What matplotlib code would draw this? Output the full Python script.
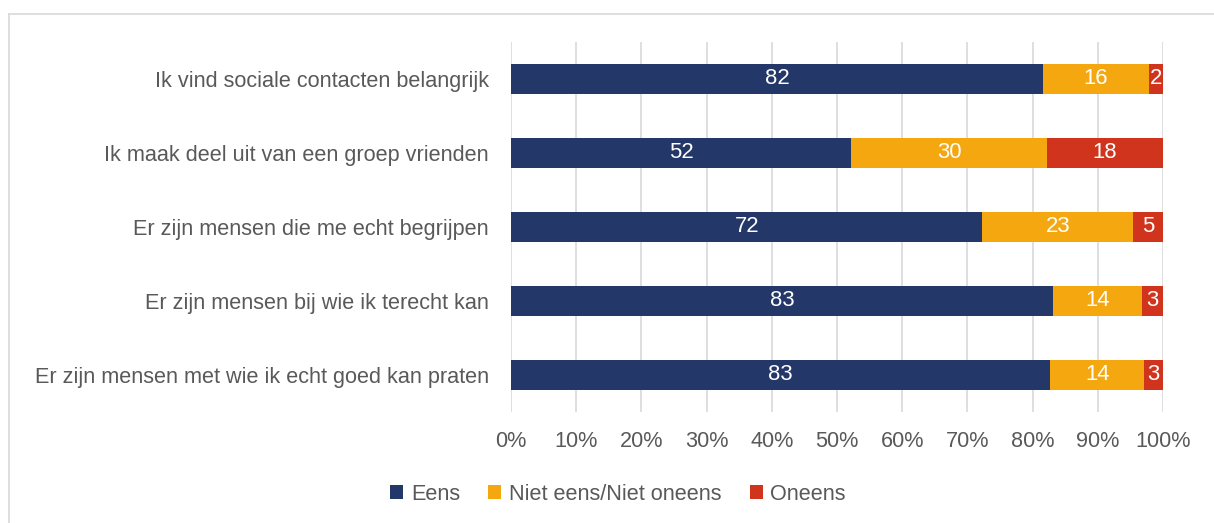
import matplotlib.pyplot as plt
from matplotlib.lines import Line2D
import numpy as np

# Gegevens (percentages)
categories = [
    "Ik vind sociale contacten belangrijk",
    "Ik maak deel uit van een groep vrienden",
    "Er zijn mensen die me echt begrijpen",
    "Er zijn mensen bij wie ik terecht kan",
    "Er zijn mensen met wie ik echt goed kan praten",
]
eens = [81.6, 52.2, 72.3, 83.2, 82.7]
neutraal = [16.3, 30.0, 23.1, 13.6, 14.4]
oneens = [2.1, 17.8, 4.6, 3.2, 2.9]
series_names = ["Eens", "Niet eens/Niet oneens", "Oneens"]
colors = ["#243769", "#F5A70F", "#D0341C"]

plt.rcParams['font.family'] = ['Liberation Sans', 'DejaVu Sans']
text_color = "#595959"
fs = 15.6

W, H = 1214, 523
fig = plt.figure(figsize=(W / 100, H / 100), dpi=100)
ax = fig.add_axes([511 / W, 1 - 412 / H, (1163 - 511) / W, (412 - 42) / H])

y = np.arange(len(categories))
left = np.zeros(len(categories))
for vals, name, c in zip([eens, neutraal, oneens], series_names, colors):
    vals = np.array(vals)
    ax.barh(y, vals, left=left, height=0.41, color=c, label=name)
    for yi, l, v in zip(y, left, vals):
        ax.text(l + v / 2, yi, f"{v:.0f}", ha="center", va="center",
                color="white", fontsize=fs + 0.3)
    left = left + vals

ax.set_xlim(0, 100)
ax.set_ylim(len(categories) - 0.5, -0.5)
ax.set_yticks(y)
ax.set_yticklabels(categories, fontsize=fs, color=text_color)
ax.set_xticks(np.arange(0, 101, 10))
ax.set_xticklabels([f"{v}%" for v in range(0, 101, 10)], fontsize=fs, color=text_color)
ax.tick_params(axis="x", length=0, pad=14)
ax.tick_params(axis="y", length=0, pad=16)
ax.xaxis.grid(True, color="#d9d9d9", linewidth=1.2)
ax.set_axisbelow(True)
for s in ax.spines.values():
    s.set_visible(False)

leg = fig.legend(loc="center", bbox_to_anchor=(618 / W, 1 - 494 / H), ncol=3,
                 frameon=False, fontsize=fs, handlelength=0.6, handleheight=0.6,
                 handletextpad=0.35, columnspacing=1.3)
for t in leg.get_texts():
    t.set_color(text_color)

# rand van het kader
fig.add_artist(Line2D([9 / W, 1], [1 - 14 / H, 1 - 14 / H], color="#d9d9d9", lw=1.2))
fig.add_artist(Line2D([9 / W, 9 / W], [0, 1 - 14 / H], color="#d9d9d9", lw=1.2))

fig.savefig("out.png", dpi=100)
